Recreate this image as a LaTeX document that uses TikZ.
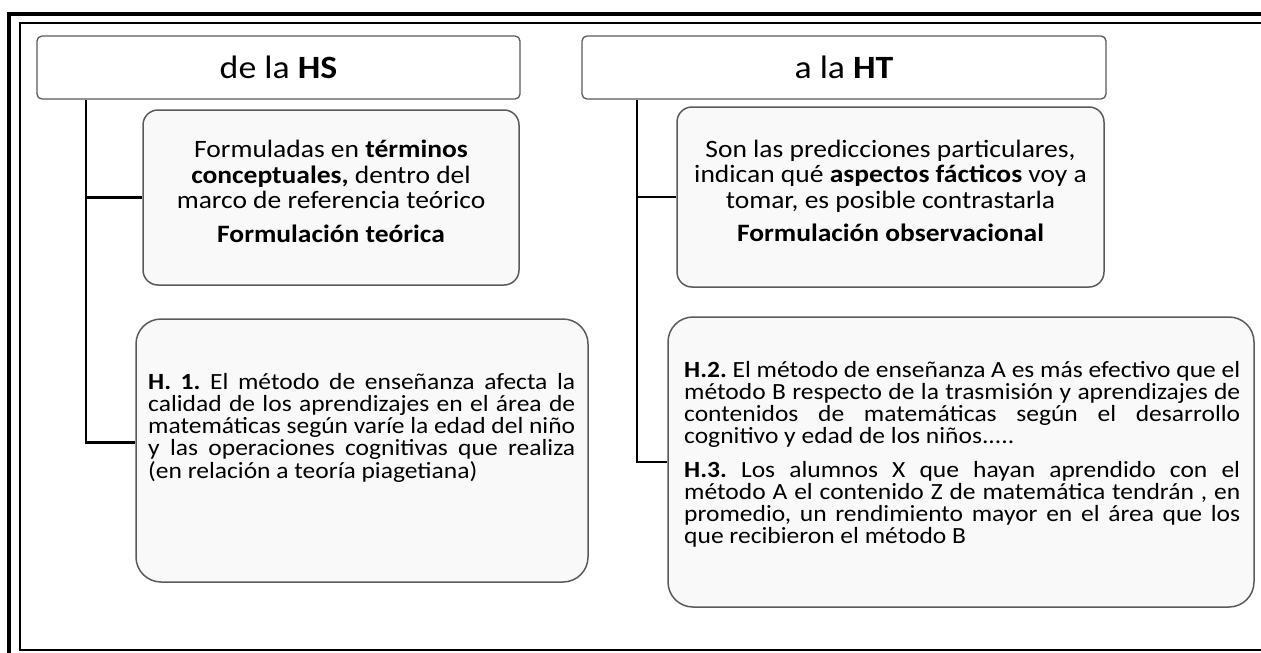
\documentclass[tikz,border=0pt]{standalone}
\usepackage{fontspec}
\setmainfont{Carlito}[FakeStretch=1.1]
\definecolor{boxgray}{HTML}{5A5A5A}
\definecolor{boxfill}{HTML}{F9F9F9}
\frenchspacing
\begin{document}
\begin{tikzpicture}[x=1pt,y=-1pt,
  hdr/.style={draw=boxgray, line width=1.3pt, rounded corners=5pt, fill=white, inner sep=0pt},
  box/.style={draw=boxgray, line width=1.5pt, fill=boxfill, inner sep=0pt},
  conn/.style={line width=2.6pt, black},
  frameouter/.style={line width=4pt, black},
  frameinner/.style={line width=2pt, black},
  hdrtext/.style={font=\fontsize{32.5}{34}\selectfont},
  ctext/.style={align=center, font=\fontsize{25}{25.5}\selectfont},
  jtext/.style={align=justify, anchor=north west, inner sep=0pt, font=\fontsize{23.2}{22.2}\selectfont\frenchspacing}]
\useasboundingbox (0,0) rectangle (1261,653);
\clip (0,0) rectangle (1261,653);
% frame
\draw[frameouter] (9,13.5) rectangle (1300,700);
\draw[frameinner] (20,23) rectangle (1300,650);
% headers
\node[hdr, minimum width=483pt, minimum height=63pt] (h1) at (278.5,67.5) {};
\node[hdrtext] (h1t) at (h1.center) {de la \textbf{HS}};
\node[hdr, minimum width=524pt, minimum height=63pt] (h2) at (844,67.5) {};
\node[hdrtext] (h2t) at (h2.center) {a la \textbf{HT}};
% boxes
\node[box, rounded corners=15pt, minimum width=376pt, minimum height=175pt] (b1) at (331,197.5) {};
\node[ctext] (b1t) at ([yshift=6pt]b1.center) {Formuladas en \textbf{términos}\\ \textbf{conceptuales,} dentro del\\ marco de referencia teórico\\[8pt] \textbf{Formulación teórica}};
\node[box, rounded corners=15pt, minimum width=427pt, minimum height=180pt] (b3) at (890.5,197) {};
\node[ctext] (b3t) at ([yshift=6pt]b3.center) {Son las predicciones particulares,\\ indican qué \textbf{aspectos fácticos} voy a\\ tomar, es posible contrastarla\\[8pt] \textbf{Formulación observacional}};
\node[box, rounded corners=25pt, minimum width=452pt, minimum height=263pt] (b2) at (362,450.5) {};
\node[jtext, text width=427pt] (b2t) at (148,373) {\textbf{H. 1.} El método de enseñanza afecta la\linebreak calidad de los aprendizajes en el área de\linebreak matemáticas según varíe la edad del niño\linebreak y las operaciones cognitivas que realiza\linebreak (en relación a teoría piagetiana)};
\node[box, rounded corners=25pt, minimum width=586pt, minimum height=290pt] (b4) at (961,462) {};
\node[jtext, text width=556pt] (b4t) at (684,361) {\textbf{H.2.} El método de enseñanza A es más efectivo que el\linebreak método B respecto de la trasmisión y aprendizajes de\linebreak contenidos de matemáticas según el desarrollo\linebreak cognitivo y edad de los niños.....\\[11pt]
\textbf{H.3.} Los alumnos X que hayan aprendido con el\linebreak método A el contenido Z de matemática tendrán , en\linebreak promedio, un rendimiento mayor en el área que los\linebreak que recibieron el método B};
% connectors
\coordinate (lx) at (86,0);
\coordinate (rx) at (637,0);
\draw[conn] (h1.south -| lx) |- ([yshift=8pt]b2.west);
\draw[conn] (b1.west -| lx) -- (b1.west);
\draw[conn] (h2.south -| rx) |- (b4.west);
\draw[conn] (b3.west -| rx) -- (b3.west);
\end{tikzpicture}
\end{document}
